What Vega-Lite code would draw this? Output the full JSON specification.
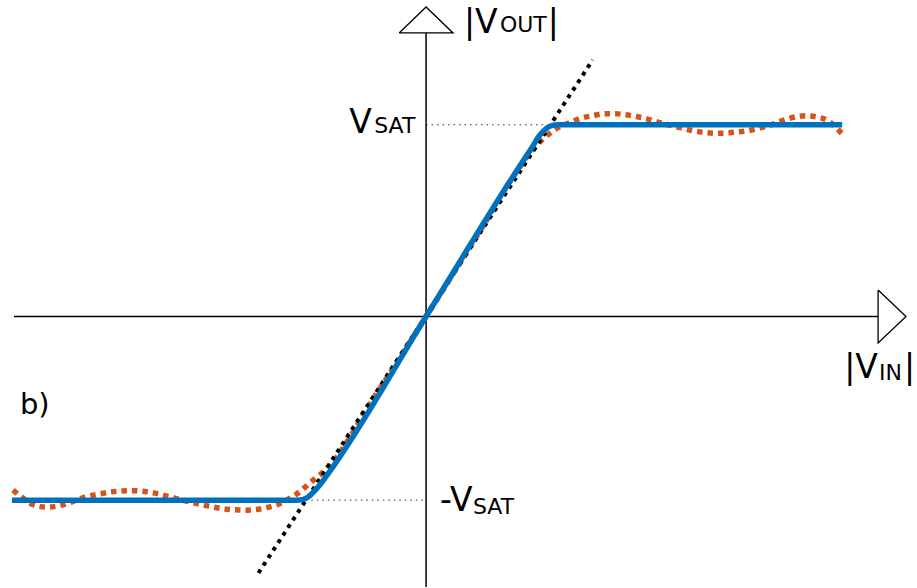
{
  "$schema": "https://vega.github.io/schema/vega-lite/v6.json",
  "width": 917,
  "height": 588,
  "autosize": {"type": "fit", "contains": "padding"},
  "padding": 0,
  "background": "white",
  "config": {"view": {"stroke": null}},
  "encoding": {
    "x": {"type": "quantitative", "scale": {"domain": [-4.25, 4.92], "nice": false, "zero": false}, "axis": null},
    "y": {"type": "quantitative", "scale": {"domain": [-2.71, 3.17], "nice": false, "zero": false}, "axis": null}
  },
  "layer": [
    {
      "data": {"values": [
        {"x": 0, "x2": 1.2, "y": 1.92},
        {"x": -1.15, "x2": 0, "y": -1.84}
      ]},
      "mark": {"type": "rule", "color": "#333333", "strokeWidth": 1, "strokeDash": [1.5, 4]},
      "encoding": {"x": {"field": "x"}, "x2": {"field": "x2"}, "y": {"field": "y"}}
    },
    {
      "data": {"values": [
        {"x": -4.13, "x2": 4.53, "y": 0, "y2": 0},
        {"x": 0, "x2": 0, "y": -2.71, "y2": 2.84}
      ]},
      "mark": {"type": "rule", "color": "black", "strokeWidth": 1.5},
      "encoding": {"x": {"field": "x"}, "x2": {"field": "x2"}, "y": {"field": "y"}, "y2": {"field": "y2"}}
    },
    {
      "data": {"values": [
        {"a": "x", "o": 1, "x": 4.53, "y": 0.265},
        {"a": "x", "o": 2, "x": 4.81, "y": 0},
        {"a": "x", "o": 3, "x": 4.53, "y": -0.265},
        {"a": "x", "o": 4, "x": 4.53, "y": 0.265},
        {"a": "y", "o": 1, "x": -0.27, "y": 2.84},
        {"a": "y", "o": 2, "x": 0, "y": 3.10},
        {"a": "y", "o": 3, "x": 0.27, "y": 2.84},
        {"a": "y", "o": 4, "x": -0.27, "y": 2.84}
      ]},
      "mark": {"type": "line", "color": "black", "strokeWidth": 1.3, "strokeJoin": "miter"},
      "encoding": {"x": {"field": "x"}, "y": {"field": "y"}, "order": {"field": "o", "type": "quantitative"}, "detail": {"field": "a"}}
    },
    {
      "data": {"values": [
        {"x": -4.14, "y": -1.74}, {"x": -4.05, "y": -1.81}, {"x": -3.95, "y": -1.88}, {"x": -3.80, "y": -1.91},
        {"x": -3.65, "y": -1.89}, {"x": -3.42, "y": -1.81}, {"x": -3.28, "y": -1.78}, {"x": -3.08, "y": -1.75},
        {"x": -2.95, "y": -1.745}, {"x": -2.72, "y": -1.77}, {"x": -2.52, "y": -1.82}, {"x": -2.38, "y": -1.855},
        {"x": -2.18, "y": -1.90}, {"x": -1.95, "y": -1.935}, {"x": -1.80, "y": -1.94}, {"x": -1.62, "y": -1.92},
        {"x": -1.48, "y": -1.88}, {"x": -1.30, "y": -1.78}, {"x": -1.20, "y": -1.70}, {"x": -1.12, "y": -1.63},
        {"x": -1.02, "y": -1.55}, {"x": -0.5, "y": -0.78}, {"x": 0, "y": 0}, {"x": 0.5, "y": 0.79},
        {"x": 0.92, "y": 1.47}, {"x": 1.05, "y": 1.65}, {"x": 1.12, "y": 1.73}, {"x": 1.20, "y": 1.80},
        {"x": 1.27, "y": 1.86}, {"x": 1.35, "y": 1.905}, {"x": 1.45, "y": 1.945}, {"x": 1.55, "y": 1.985},
        {"x": 1.67, "y": 2.01}, {"x": 1.78, "y": 2.03}, {"x": 1.90, "y": 2.03}, {"x": 2.00, "y": 2.02},
        {"x": 2.12, "y": 2.00}, {"x": 2.23, "y": 1.975}, {"x": 2.35, "y": 1.94}, {"x": 2.45, "y": 1.915},
        {"x": 2.57, "y": 1.885}, {"x": 2.68, "y": 1.86}, {"x": 2.78, "y": 1.845}, {"x": 2.90, "y": 1.835},
        {"x": 3.02, "y": 1.838}, {"x": 3.13, "y": 1.85}, {"x": 3.25, "y": 1.865}, {"x": 3.35, "y": 1.89},
        {"x": 3.47, "y": 1.925}, {"x": 3.58, "y": 1.965}, {"x": 3.68, "y": 1.995}, {"x": 3.80, "y": 2.01},
        {"x": 3.90, "y": 2.00}, {"x": 4.02, "y": 1.965}, {"x": 4.10, "y": 1.90}, {"x": 4.17, "y": 1.83}
      ]},
      "mark": {"type": "line", "color": "#D95319", "strokeWidth": 5.5, "strokeDash": [5.5, 5], "interpolate": "monotone"},
      "encoding": {"x": {"field": "x"}, "y": {"field": "y"}}
    },
    {
      "data": {"values": [
        {"x": -1.68, "y": -2.57},
        {"x": 1.67, "y": 2.57}
      ]},
      "mark": {"type": "line", "color": "black", "strokeWidth": 4, "strokeDash": [4, 5]},
      "encoding": {"x": {"field": "x"}, "y": {"field": "y"}}
    },
    {
      "data": {"values": [
        {"x": -4.15, "y": -1.84}, {"x": -1.30, "y": -1.84}, {"x": -1.23, "y": -1.832}, {"x": -1.17, "y": -1.80},
        {"x": -1.12, "y": -1.75}, {"x": -1.06, "y": -1.68}, {"x": -1.0, "y": -1.60}, {"x": 0, "y": 0},
        {"x": 1.0, "y": 1.60}, {"x": 1.06, "y": 1.69}, {"x": 1.12, "y": 1.79}, {"x": 1.18, "y": 1.86},
        {"x": 1.24, "y": 1.905}, {"x": 1.32, "y": 1.92}, {"x": 4.17, "y": 1.92}
      ]},
      "mark": {"type": "line", "color": "#0072BD", "strokeWidth": 5.5, "interpolate": "monotone"},
      "encoding": {"x": {"field": "x"}, "y": {"field": "y"}}
    },
    {
      "data": {"values": [
        {"x": 0.38, "y": 2.84, "t": "|V"},
        {"x": 1.22, "y": 2.84, "t": "|"},
        {"x": -0.77, "y": 1.84, "t": "V"},
        {"x": 0.14, "y": -1.95, "t": "-V"},
        {"x": 4.19, "y": -0.62, "t": "|V"},
        {"x": 4.79, "y": -0.62, "t": "|"}
      ]},
      "mark": {"type": "text", "font": "DejaVu Sans", "fontSize": 33, "align": "left", "baseline": "alphabetic", "color": "black"},
      "encoding": {"x": {"field": "x"}, "y": {"field": "y"}, "text": {"field": "t"}}
    },
    {
      "data": {"values": [
        {"x": 0.74, "y": 2.85, "t": "OUT"},
        {"x": -0.52, "y": 1.84, "t": "SAT"},
        {"x": 0.47, "y": -1.98, "t": "SAT"},
        {"x": 4.54, "y": -0.64, "t": "IN"}
      ]},
      "mark": {"type": "text", "font": "DejaVu Sans", "fontSize": 22, "align": "left", "baseline": "alphabetic", "color": "black"},
      "encoding": {"x": {"field": "x"}, "y": {"field": "y"}, "text": {"field": "t"}}
    },
    {
      "data": {"values": [
        {"x": -4.07, "y": -0.98, "t": "b)"}
      ]},
      "mark": {"type": "text", "font": "DejaVu Sans", "fontSize": 29, "align": "left", "baseline": "alphabetic", "color": "black"},
      "encoding": {"x": {"field": "x"}, "y": {"field": "y"}, "text": {"field": "t"}}
    }
  ]
}
